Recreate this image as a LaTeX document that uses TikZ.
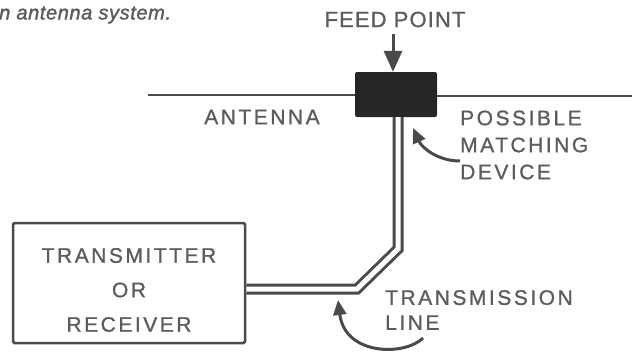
\documentclass[tikz,border=0pt]{standalone}
\usepackage{fontspec}
\setmainfont{Liberation Sans}
\newfontfamily\lblfont[LetterSpace=12,FakeBold=1]{Liberation Sans}
\newfontfamily\feedfont[LetterSpace=5,FakeBold=1]{Liberation Sans}
\newfontfamily\capfont[FakeBold=1.5,LetterSpace=3]{Liberation Sans}
\usetikzlibrary{arrows.meta}
\definecolor{ink}{HTML}{4A4A4A}
\definecolor{txt}{HTML}{5C5C5C}
\definecolor{blk}{HTML}{262626}
\tikzset{
  lbl/.style={font={\lblfont\fontsize{21}{27}\selectfont}, text=txt, inner sep=0pt},
  wire/.style={draw=ink, line width=2.7pt},
  twin/.style={draw=ink, line width=3pt, double=white, double distance=5pt, line join=miter},
  pointer/.style={-{Triangle[length=15pt,width=13pt]}, draw=ink, line width=3pt},
}
\begin{document}
\begin{tikzpicture}[x=1pt,y=-1pt]
\useasboundingbox (0,0) rectangle (632,354);
% caption fragment
\node[anchor=west, inner sep=0pt, text=txt, font={\capfont\itshape\fontsize{20}{20}\selectfont}] (cap) at (-1,15) {n antenna system.};
% antenna
\node[fill=blk, rounded corners=2pt, minimum width=82pt, minimum height=45pt, inner sep=0pt] (match) at (396,94.5) {};
\coordinate (antL) at (148,95);
\coordinate (antR) at (632,96);
\draw[wire] (antL) -- (match.west |- antL);
\draw[wire] (match.east |- antR) -- (antR);
\node[lbl] (antlbl) at (262,117) {ANTENNA};
% feed point
\node[lbl, font={\feedfont\fontsize{22}{27}\selectfont}] (feed) at (395,19.5) {FEED POINT};
\coordinate (feedtop) at (393,34);
\draw[-{Triangle[length=21pt,width=18pt]}, draw=ink, line width=3pt] (feedtop) -- (feedtop |- match.north);
% transmitter box
\node[draw=ink, line width=2.5pt, rounded corners=1.5pt, minimum width=232pt, minimum height=120pt, inner sep=0pt] (tx) at (129,283) {};
\node[lbl, align=center, font={\lblfont\fontsize{21}{34.5}\selectfont}] (txlbl) at (129,290) {TRANSMITTER\\OR\\RECEIVER};
% transmission line
\coordinate (c1) at (398,249);
\coordinate (c2) at (357,289);
\draw[twin] (match.south -| c1) -- (c1) -- (c2) -- (tx.east |- c2);
% labels
\node[lbl, anchor=west, align=left] (mdlbl) at (460,145) {POSSIBLE\\MATCHING\\DEVICE};
\node[lbl, anchor=west, align=left, font={\lblfont\fontsize{21}{25}\selectfont}] (tllbl) at (385,310) {TRANSMISSION\\LINE};
% curved pointer arrows
\draw[pointer] (mdlbl.west |- 0,161) .. controls (438,161) and (422,148) .. (413,128);
\draw[pointer] (423,338) .. controls (405,356) and (345,356) .. (338,300);
\end{tikzpicture}
\end{document}
